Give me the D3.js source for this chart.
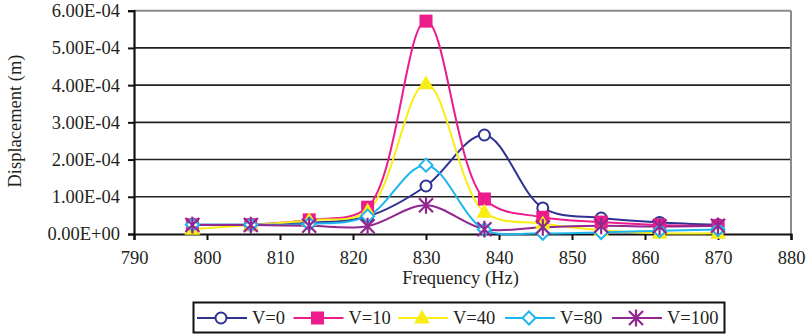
<!DOCTYPE html>
<html>
<head>
<meta charset="utf-8">
<script src="https://cdn.jsdelivr.net/npm/d3@7"></script>
<style>
  html, body { margin: 0; padding: 0; background: #fff; }
  svg { display: block; }
  text { font-family: "Liberation Serif", "Times New Roman", serif; fill: #231f20; }
</style>
</head>
<body>
<svg id="chart" width="807" height="335"></svg>
<script>
// Frequency sweep (Hz) and measured displacement (m) for each speed V
const frequencies = [798, 806, 814, 822, 830, 838, 846, 854, 862, 870];
const dispV0   = [0.25e-4, 0.25e-4, 0.30e-4, 0.47e-4, 1.29e-4, 2.66e-4, 0.70e-4, 0.43e-4, 0.31e-4, 0.25e-4];
const dispV10  = [0.25e-4, 0.25e-4, 0.38e-4, 0.72e-4, 5.72e-4, 0.94e-4, 0.45e-4, 0.32e-4, 0.24e-4, 0.22e-4];
const dispV40  = [0.13e-4, 0.24e-4, 0.37e-4, 0.62e-4, 4.04e-4, 0.59e-4, 0.28e-4, 0.10e-4, 0.02e-4, 0.02e-4];
const dispV80  = [0.25e-4, 0.25e-4, 0.27e-4, 0.48e-4, 1.85e-4, 0.12e-4, 0.02e-4, 0.04e-4, 0.09e-4, 0.12e-4];
const dispV100 = [0.24e-4, 0.24e-4, 0.22e-4, 0.21e-4, 0.77e-4, 0.13e-4, 0.18e-4, 0.22e-4, 0.20e-4, 0.22e-4];

const seriesNames = ["V=0", "V=10", "V=40", "V=80", "V=100"];
const xTicks = [790, 800, 810, 820, 830, 840, 850, 860, 870, 880];
const yTicks = [0, 1e-4, 2e-4, 3e-4, 4e-4, 5e-4, 6e-4];

const series = [
  { name: seriesNames[0], values: dispV0,   color: "#2e3192", marker: "circle" },
  { name: seriesNames[1], values: dispV10,  color: "#ec1c8c", marker: "square" },
  { name: seriesNames[2], values: dispV40,  color: "#f9ed15", marker: "triangle" },
  { name: seriesNames[3], values: dispV80,  color: "#1cb5ec", marker: "diamond" },
  { name: seriesNames[4], values: dispV100, color: "#92278f", marker: "star" }
];

const svg = d3.select("#chart");
const plot = { left: 134, right: 791, top: 10.7, bottom: 234 };

const x = d3.scaleLinear().domain([790, 880]).range([plot.left, plot.right]);
const y = d3.scaleLinear().domain([0, 6e-4]).range([plot.bottom, plot.top]);

// Scientific label such as 6.00E-04
function sci(v) {
  if (v === 0) return "0.00E+00";
  const [m, e] = v.toExponential(2).split("e");
  const ex = parseInt(e, 10);
  const sign = ex < 0 ? "-" : "+";
  return m + "E" + sign + String(Math.abs(ex)).padStart(2, "0");
}

// horizontal gridlines (the top one doubles as the frame edge in grey)
svg.append("g").selectAll("line")
  .data(yTicks.filter(d => d > 0))
  .join("line")
  .attr("x1", plot.left).attr("x2", plot.right)
  .attr("y1", d => y(d)).attr("y2", d => y(d))
  .attr("stroke", d => d === 6e-4 ? "#8c8c8c" : "#222")
  .attr("stroke-width", d => d === 6e-4 ? 2 : 1.6);

// right frame edge
svg.append("line")
  .attr("x1", plot.right).attr("x2", plot.right)
  .attr("y1", plot.top).attr("y2", plot.bottom)
  .attr("stroke", "#8c8c8c").attr("stroke-width", 2);

// axes
const yAxis = d3.axisLeft(y).tickValues(yTicks).tickFormat(sci).tickSize(6).tickPadding(8);
const xAxis = d3.axisBottom(x).tickValues(xTicks).tickFormat(d3.format("d")).tickSize(6).tickPadding(6);

const gy = svg.append("g").attr("transform", `translate(${plot.left},0)`).call(yAxis);
const gx = svg.append("g").attr("transform", `translate(0,${plot.bottom})`).call(xAxis);
[gx, gy].forEach(g => {
  g.select(".domain").attr("stroke", "#111").attr("stroke-width", 2.2);
  g.selectAll(".tick line").attr("stroke", "#111").attr("stroke-width", 2);
  g.selectAll(".tick text").attr("font-size", "18.5px")
    .attr("font-family", "'Liberation Serif', 'Times New Roman', serif").attr("fill", "#231f20");
});
gx.selectAll(".tick text").attr("dy", "0.95em");

// axis titles
svg.append("text")
  .attr("x", (plot.left + plot.right) / 2 - 2).attr("y", 284)
  .attr("text-anchor", "middle").attr("font-size", "18.5px")
  .text("Frequency (Hz)");
svg.append("text")
  .attr("transform", `translate(21,121) rotate(-90)`)
  .attr("text-anchor", "middle").attr("font-size", "18.5px")
  .text("Displacement (m)");

// markers
function drawMarker(g, type, color, cx, cy) {
  if (type === "circle") {
    g.append("circle").attr("cx", cx).attr("cy", cy).attr("r", 5.5)
      .attr("fill", "#fff").attr("stroke", color).attr("stroke-width", 2);
  } else if (type === "square") {
    g.append("rect").attr("x", cx - 6.5).attr("y", cy - 6.5).attr("width", 13).attr("height", 13)
      .attr("fill", color);
  } else if (type === "triangle") {
    g.append("path").attr("d", d3.symbol(d3.symbolTriangle, 110)()).attr("transform", `translate(${cx},${cy + 1})`)
      .attr("fill", color);
  } else if (type === "diamond") {
    const r = 6.5;
    g.append("path").attr("d", `M${cx},${cy - r}L${cx + r},${cy}L${cx},${cy + r}L${cx - r},${cy}Z`)
      .attr("fill", "#fff").attr("stroke", color).attr("stroke-width", 2);
  } else if (type === "star") {
    const r = 7;
    const p = `M${cx - r},${cy - r}L${cx + r},${cy + r}M${cx - r},${cy + r}L${cx + r},${cy - r}M${cx},${cy - r * 1.2}L${cx},${cy + r * 1.2}`;
    g.append("path").attr("d", p).attr("stroke", color).attr("stroke-width", 2.2).attr("fill", "none");
  }
}

const line = d3.line()
  .x((d, i) => x(frequencies[i]))
  .y(d => y(d))
  .curve(d3.curveCatmullRom.alpha(0.5));

const linesG = svg.append("g");
series.forEach(s => {
  linesG.append("path")
    .attr("d", line(s.values))
    .attr("fill", "none")
    .attr("stroke", s.color)
    .attr("stroke-width", 2);
});
const markersG = svg.append("g");
series.forEach(s => {
  s.values.forEach((v, i) => drawMarker(markersG, s.marker, s.color, x(frequencies[i]), y(v)));
});

// legend
const legend = svg.append("g");
legend.append("rect")
  .attr("x", 193.5).attr("y", 302.5).attr("width", 531).attr("height", 30)
  .attr("fill", "#fff").attr("stroke", "#111").attr("stroke-width", 2);
const legendX = [197, 293.5, 398, 505, 612];
series.forEach((s, i) => {
  const lx = legendX[i], ly = 318;
  legend.append("line").attr("x1", lx).attr("x2", lx + 50).attr("y1", ly).attr("y2", ly)
    .attr("stroke", s.color).attr("stroke-width", 2);
  drawMarker(legend, s.marker, s.color, lx + 24, ly);
  legend.append("text").attr("x", lx + 55).attr("y", ly).attr("dy", "0.35em")
    .attr("font-size", "18.5px").text(s.name);
});
</script>
</body>
</html>
